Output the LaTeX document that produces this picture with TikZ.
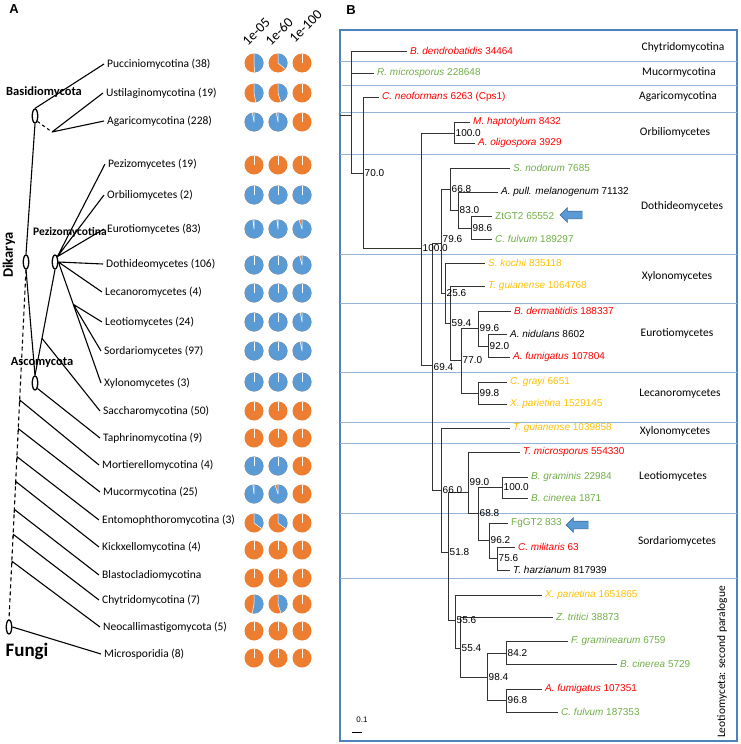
\documentclass[tikz,border=0pt]{standalone}
\usepackage{fontspec}
\setmainfont{Carlito}
\newfontfamily\arial{Liberation Sans}
\usetikzlibrary{shapes.geometric,shapes.arrows,calc}
\definecolor{pieorange}{HTML}{ED7D31}
\definecolor{pieblue}{HTML}{5B9BD5}
\definecolor{boxblue}{HTML}{4F81BD}
\definecolor{rulecol}{HTML}{95B3D7}
\definecolor{spred}{HTML}{FF0000}
\definecolor{spgreen}{HTML}{70AD47}
\definecolor{spyellow}{HTML}{FFC000}
\definecolor{arrowline}{HTML}{41719C}

% one pie: x, y, blue share
\newcommand{\fpie}[3]{%
  \fill[pieorange] (#1,#2) circle[radius=9.5];
  \ifdim#3pt>0pt
    \fill[pieblue] (#1,#2) -- ++(-90:9.5) arc[start angle=-90, delta angle={360*#3}, radius=9.5] -- cycle;
  \fi
  \draw[white, line width=0.5] (#1,#2) -- ++(-90:9.5) (#1,#2) -- ++({-90+360*#3}:9.5);
}
\newcommand{\pierow}[4]{\fpie{254}{#1}{#2}\fpie{278}{#1}{#3}\fpie{302}{#1}{#4}}

\begin{document}
\begin{tikzpicture}[
    x=1pt, y=-1pt,
    lbl/.style={anchor=west, inner sep=3pt, font=\fontsize{11.5}{13}\selectfont},
    clade/.style={font=\bfseries\fontsize{12.5}{14}\selectfont},
    knot/.style={draw, ellipse, line width=1.3, minimum width=5.5, minimum height=14, inner sep=0},
    branch/.style={line width=1.1},
    hdr/.style={rotate=45, anchor=south west, inner sep=0, font=\fontsize{14}{16}\selectfont},
    leaf/.style={anchor=west, inner sep=3pt, font=\arial\fontsize{10}{12}\selectfont},
    sup/.style={anchor=west, inner sep=1.5pt, font=\arial\fontsize{10}{12}\selectfont},
    twig/.style={line width=0.9, black!80},
    region/.style={font=\fontsize{11.5}{13}\selectfont},
    divider/.style={rulecol, line width=0.9},
    pointer/.style={single arrow, shape border rotate=180, fill=pieblue, draw=arrowline,
        line width=0.6, inner sep=3.5pt, minimum height=22, single arrow head extend=3.5}
]
\useasboundingbox (0,0) rectangle (740,744);

% panel A
\node[font=\arial\bfseries\fontsize{13}{15}\selectfont] at (14,9) {A};
\node[hdr] at (248,47) {1e-05};
\node[hdr] at (271,47) {1e-60};
\node[hdr] at (295,44) {1e-100};

\node[lbl] (puc) at (104,64) {Pucciniomycotina (38)};
\node[lbl] (ust) at (103,93) {Ustilaginomycotina (19)};
\node[lbl] (aga) at (104,121) {Agaricomycotina (228)};
\node[lbl] (pzm) at (105,164) {Pezizomycetes (19)};
\node[lbl] (orb) at (104,195) {Orbiliomycetes (2)};
\node[lbl] (eur) at (104,229) {Eurotiomycetes (83)};
\node[lbl] (dot) at (103,264) {Dothideomycetes (106)};
\node[lbl] (lec) at (102,292) {Lecanoromycetes (4)};
\node[lbl] (leo) at (102,322) {Leotiomycetes (24)};
\node[lbl] (sor) at (101,351) {Sordariomycetes (97)};
\node[lbl] (xyl) at (101,383) {Xylonomycetes (3)};
\node[lbl] (sac) at (100,411) {Saccharomycotina (50)};
\node[lbl] (tap) at (100,438) {Taphrinomycotina (9)};
\node[lbl] (mor) at (99,465) {Mortierellomycotina (4)};
\node[lbl] (muc) at (100,492) {Mucormycotina (25)};
\node[lbl] (ent) at (99,520) {Entomophthoromycotina (3)};
\node[lbl] (kic) at (99,547) {Kickxellomycotina (4)};
\node[lbl] (bla) at (99,575) {Blastocladiomycotina};
\node[lbl] (chy) at (99,600) {Chytridomycotina (7)};
\node[lbl] (neo) at (100,627) {Neocallimastigomycota (5)};
\node[lbl] (mic) at (101,654) {Microsporidia (8)};

\node[knot] (basid) at (35,116) {};
\node[knot] (dik) at (26,262) {};
\node[knot] (pezi) at (55,262) {};
\node[knot] (asco) at (35,383) {};
\node[knot] (fungi) at (9,627) {};
\coordinate (ua) at (52,132);

\node[clade] at (44,92) {Basidiomycota};
\node[clade, rotate=90, font=\bfseries\fontsize{14.5}{16}\selectfont] at (9,255) {Dikarya};
\node[clade, font=\bfseries\fontsize{11.5}{13}\selectfont] at (70,232) {Pezizomycotina};
\node[clade] at (42,362) {Ascomycota};
\node[clade, font=\bfseries\fontsize{19}{21}\selectfont] at (27,651) {Fungi};

\draw[branch] (basid.north) -- (puc.west);
\draw[branch, dashed] (basid.south east) -- (ua);
\draw[branch] (ua) -- (ust.west) (ua) -- (aga.west);
\draw[branch] (dik.north) -- (basid.south);
\draw[branch] (dik.south) -- (asco.north);
\draw[branch] (asco.north) -- (pezi.south);
\draw[branch] ($(asco.north)!0.35!(pezi.south)$) -- (sac.west);
\draw[branch] (asco.south east) -- (tap.west);
\draw[branch] (pezi.north east) -- (pzm.west) (pezi.north east) -- (orb.west) (pezi.north east) -- (eur.west);
\draw[branch] (pezi.east) -- (dot.west) (pezi.east) -- (lec.west) (pezi.east) -- (xyl.west);
\draw[branch] ($(pezi.east)!0.35!(xyl.west)$) -- (leo.west) ($(pezi.east)!0.35!(xyl.west)$) -- (sor.west);
\draw[branch, dash pattern=on 4pt off 3pt] (dik.south) -- (fungi.north);
\foreach \t/\lab in {0.382/mor, 0.464/muc, 0.544/ent, 0.615/kic, 0.695/bla, 0.766/chy, 0.843/neo}
    \draw[branch] ($(dik.south)!\t!(fungi.north)$) -- ++(0.5,-3) -- (\lab.west);
\draw[branch] (fungi.east) -- (mic.west);

\pierow{63}{0.49}{0.36}{0}
\pierow{93}{0.47}{0.45}{0}
\pierow{122}{0.97}{0.97}{0}
\pierow{165}{0}{0}{0}
\pierow{195}{1}{1}{1}
\pierow{229}{0.98}{0.98}{0.95}
\pierow{265}{1}{1}{0.96}
\pierow{293}{1}{1}{1}
\pierow{322}{1}{1}{0.97}
\pierow{351}{1}{1}{0.97}
\pierow{382}{1}{1}{1}
\pierow{411}{0}{0}{0}
\pierow{438}{0}{0}{0}
\pierow{466}{1}{1}{0}
\pierow{494}{0.98}{0.95}{0}
\pierow{523}{0.35}{0.35}{0}
\pierow{550}{0}{0}{0}
\pierow{578}{0}{0}{0}
\pierow{604}{0.53}{0.45}{0}
\pierow{631}{0}{0}{0}
\pierow{658}{0}{0}{0}

% panel B
\node[font=\arial\bfseries\fontsize{13}{15}\selectfont] at (351,10) {B};
\draw[boxblue, line width=1.2] (340,30) rectangle (737,741);
\foreach \y in {61,112,154,254,303,372,422,443,513,578}
    \draw[divider] (340,\y) -- (737,\y);
\draw[divider] (342,85) -- (737,85);

\node[region] at (683,47) {Chytridomycotina};
\node[region] at (679,72) {Mucormycotina};
\node[region] at (678,97) {Agaricomycotina};
\node[region] at (675,132) {Orbiliomycetes};
\node[region] at (682,206) {Dothideomycetes};
\node[region] at (677,276) {Xylonomycetes};
\node[region] at (677,333) {Eurotiomycetes};
\node[region] at (680,394) {Lecanoromycetes};
\node[region] at (675,431) {Xylonomycetes};
\node[region] at (673,476) {Leotiomycetes};
\node[region] at (677,541) {Sordariomycetes};
\node[region, rotate=90] at (722,662) {Leotiomyceta: second paralogue};

\node[leaf, spred] (bden) at (407,51) {\textit{B. dendrobatidis} 34464};
\node[leaf, spgreen] (rmic) at (374,73) {\textit{R. microsporus} 228648};
\node[leaf, spred] (cneo) at (379,97) {\textit{C. neoformans} 6263 (Cps1)};
\node[leaf, spred] (mhap) at (470,122) {\textit{M. haptotylum} 8432};
\node[leaf, spred] (aoli) at (475,143) {\textit{A. oligospora} 3929};
\node[leaf, spgreen] (snod) at (510,168) {\textit{S. nodorum} 7685};
\node[leaf] (apul) at (498,192) {\textit{A. pull. melanogenum} 71132};
\node[leaf, spgreen] (ztgt) at (492,216) {ZtGT2 65552};
\node[leaf, spgreen] (cful) at (492,239) {\textit{C. fulvum} 189297};
\node[leaf, spyellow] (skoc) at (485,263) {\textit{S. kochii} 835118};
\node[leaf, spyellow] (tgui) at (485,286) {\textit{T. guianense} 1064768};
\node[leaf, spred] (bder) at (511,311) {\textit{B. dermatitidis} 188337};
\node[leaf] (anid) at (507,334) {\textit{A. nidulans} 8602};
\node[leaf, spred] (afum) at (510,357) {\textit{A. fumigatus} 107804};
\node[leaf, spyellow] (cgra) at (507,382) {\textit{C. grayi} 6651};
\node[leaf, spyellow] (xpar) at (507,404) {\textit{X. parietina} 1529145};
\node[leaf, spyellow] (tguib) at (510,428) {\textit{T. guianense} 1039858};
\node[leaf, spred] (tmic) at (520,452) {\textit{T. microsporus} 554330};
\node[leaf, spgreen] (bgra) at (528,477) {\textit{B. graminis} 22984};
\node[leaf, spgreen] (bcin) at (528,498) {\textit{B. cinerea} 1871};
\node[leaf, spgreen] (fggt) at (508,523) {FgGT2 833};
\node[leaf, spred] (cmil) at (515,547) {\textit{C. militaris} 63};
\node[leaf] (thar) at (510,570) {\textit{T. harzianum} 817939};
\node[leaf, spyellow] (xparb) at (542,595) {\textit{X. parietina} 1651865};
\node[leaf, spgreen] (ztri) at (553,617) {\textit{Z. tritici} 38873};
\node[leaf, spgreen] (fgra) at (568,641) {\textit{F. graminearum} 6759};
\node[leaf, spgreen] (bcinb) at (617,664) {\textit{B. cinerea} 5729};
\node[leaf, spred] (afumb) at (542,689) {\textit{A. fumigatus} 107351};
\node[leaf, spgreen] (cfulb) at (558,712) {\textit{C. fulvum} 187353};

\coordinate (stub) at (340,115);
\coordinate (root) at (351,115);
\coordinate (n70) at (363,173);
\coordinate (n100a) at (421,248);
\coordinate (norb) at (454,133);
\coordinate (n694) at (432,365);
\coordinate (n796) at (441,243);
\coordinate (n668) at (450,189);
\coordinate (n830) at (458,210);
\coordinate (n986) at (471,228);
\coordinate (n256) at (445,293);
\coordinate (n594) at (450,323);
\coordinate (n770) at (461,360);
\coordinate (n996) at (478,328);
\coordinate (n920) at (488,346);
\coordinate (n998) at (478,393);
\coordinate (n660) at (441,490);
\coordinate (n518) at (448,552);
\coordinate (n990) at (468,492);
\coordinate (n688) at (478,513);
\coordinate (n100b) at (502,487);
\coordinate (n962) at (489,540);
\coordinate (n756) at (497,558);
\coordinate (n556) at (455,620);
\coordinate (n554) at (460,648);
\coordinate (n984) at (487,677);
\coordinate (n842) at (506,653);
\coordinate (n968) at (506,700);

\draw[twig] (stub) -- (root);
\draw[twig] (root) |- (bden.west) (root) |- (rmic.west) (root) |- (n70);
\draw[twig] (n70) |- (cneo.west) (n70) |- (n100a);
\draw[twig] (n100a) |- (norb) (n100a) |- (n694);
\draw[twig] (norb) |- (mhap.west) (norb) |- (aoli.west);
\draw[twig] (n694) |- (n796) (n694) |- (n660);
\draw[twig] (n796) |- (n668) (n796) |- (n256);
\draw[twig] (n668) |- (snod.west) (n668) |- (n830);
\draw[twig] (n830) |- (apul.west) (n830) |- (n986);
\draw[twig] (n986) |- (ztgt.west) (n986) |- (cful.west);
\draw[twig] (n256) |- (skoc.west) (n256) |- (n594);
\draw[twig] (n594) |- (tgui.west) (n594) |- (n770);
\draw[twig] (n770) |- (n996) (n770) |- (n998);
\draw[twig] (n996) |- (bder.west) (n996) |- (n920);
\draw[twig] (n920) |- (anid.west) (n920) |- (afum.west);
\draw[twig] (n998) |- (cgra.west) (n998) |- (xpar.west);
\draw[twig] (n660) |- (tguib.west) (n660) |- (n518);
\draw[twig] (n518) |- (n990) (n518) |- (n556);
\draw[twig] (n990) |- (tmic.west) (n990) |- (n688);
\draw[twig] (n688) |- (n100b) (n688) |- (n962);
\draw[twig] (n100b) |- (bgra.west) (n100b) |- (bcin.west);
\draw[twig] (n962) |- (fggt.west) (n962) |- (n756);
\draw[twig] (n756) |- (cmil.west) (n756) |- (thar.west);
\draw[twig] (n556) |- (xparb.west) (n556) |- (n554);
\draw[twig] (n554) |- (ztri.west) (n554) |- (n984);
\draw[twig] (n984) |- (n842) (n984) |- (n968);
\draw[twig] (n842) |- (fgra.west) (n842) |- (bcinb.west);
\draw[twig] (n968) |- (afumb.west) (n968) |- (cfulb.west);

\node[sup] at (n70) {70.0};
\node[sup] at (n100a) {100.0};
\node[sup] at (norb) {100.0};
\node[sup, yshift=-2pt] at (n694) {69.4};
\node[sup, yshift=4pt] at (n796) {79.6};
\node[sup] at (n668) {66.8};
\node[sup] at (n830) {83.0};
\node[sup] at (n986) {98.6};
\node[sup] at (n256) {25.6};
\node[sup] at (n594) {59.4};
\node[sup] at (n770) {77.0};
\node[sup] at (n996) {99.6};
\node[sup] at (n920) {92.0};
\node[sup] at (n998) {99.8};
\node[sup] at (n660) {66.0};
\node[sup] at (n518) {51.8};
\node[sup, yshift=10pt] at (n990) {99.0};
\node[sup] at (n688) {68.8};
\node[sup] at (n100b) {100.0};
\node[sup] at (n962) {96.2};
\node[sup] at (n756) {75.6};
\node[sup] at (n556) {55.6};
\node[sup] at (n554) {55.4};
\node[sup] at (n984) {98.4};
\node[sup] at (n842) {84.2};
\node[sup] at (n968) {96.8};

\node[pointer] (ztarrow) at (573,215) {};
\node[pointer] (fgarrow) at (579,525) {};

\node[font=\arial\fontsize{8}{10}\selectfont] (scale) at (362,720) {0.1};
\draw[line width=1] (352,732) -- (362,732);
\end{tikzpicture}
\end{document}
